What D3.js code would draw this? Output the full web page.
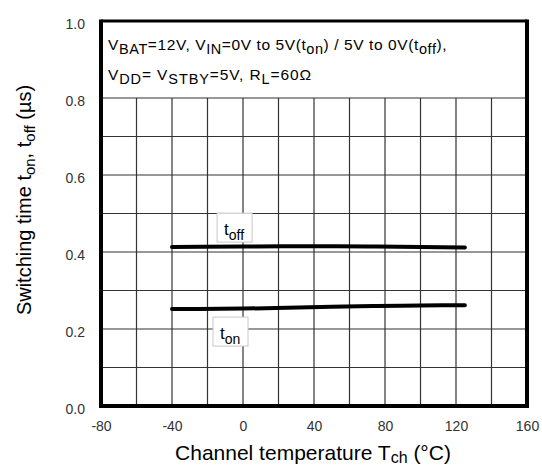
<!DOCTYPE html>
<html>
<head>
<meta charset="utf-8">
<script src="https://cdn.jsdelivr.net/npm/d3@7"></script>
<style>
  body { margin: 0; background: #fff; }
  text { font-family: Arial, "Liberation Sans", sans-serif; }
</style>
</head>
<body>
<script>
// ---- data ----
const tempTicks = [-80, -40, 0, 40, 80, 120, 160];
const timeTicks = [0.0, 0.2, 0.4, 0.6, 0.8, 1.0];
const tempGrid = [-60, -40, -20, 0, 20, 40, 60, 80, 100, 120, 140];
const timeGrid = [0.1, 0.2, 0.3, 0.4, 0.5, 0.6, 0.7, 0.8];

const temps = [-40, 0, 25, 50, 75, 100, 125];
const tOn  = [0.252, 0.253, 0.255, 0.258, 0.260, 0.261, 0.262];
const tOff = [0.413, 0.414, 0.415, 0.415, 0.414, 0.413, 0.412];

// curve label anchors (top-left of the little boxes), data units
const curveLabels = [
  {name: "off", x: -14.6, y: 0.501},
  {name: "on",  x: -16.9, y: 0.231}
];

const W = 542, H = 467;
const margin = {top: 21, right: 15, bottom: 61, left: 101};
const width = W - margin.left - margin.right;
const height = H - margin.top - margin.bottom;

const svg = d3.select("body").append("svg")
    .attr("width", W)
    .attr("height", H);

const g = svg.append("g")
    .attr("transform", `translate(${margin.left},${margin.top})`);

const x = d3.scaleLinear().domain([-80, 160]).range([0, width]);
const y = d3.scaleLinear().domain([0, 1]).range([height, 0]);

// white plot area
g.append("rect").attr("width", width).attr("height", height).attr("fill", "#fff");

// vertical grid (stops at 0.8, the note box sits above)
g.append("g").attr("class", "grid grid--x")
  .selectAll("line").data(tempGrid)
  .enter().append("line")
    .attr("x1", d => x(d)).attr("x2", d => x(d))
    .attr("y1", y(0)).attr("y2", y(0.8))
    .attr("stroke", "#333").attr("stroke-width", 1.2);

// horizontal grid
g.append("g").attr("class", "grid grid--y")
  .selectAll("line").data(timeGrid)
  .enter().append("line")
    .attr("x1", 0).attr("x2", width)
    .attr("y1", d => y(d)).attr("y2", d => y(d))
    .attr("stroke", "#333").attr("stroke-width", 1.2);

// frame: thick left / bottom / right, a bit thinner on top
g.append("line").attr("x1", 0).attr("x2", width).attr("y1", 0).attr("y2", 0)
    .attr("stroke", "#000").attr("stroke-width", 3);
g.append("line").attr("x1", 0).attr("x2", 0).attr("y1", -1.5).attr("y2", height + 2)
    .attr("stroke", "#000").attr("stroke-width", 4);
g.append("line").attr("x1", width).attr("x2", width).attr("y1", -1.5).attr("y2", height + 2)
    .attr("stroke", "#000").attr("stroke-width", 4);
g.append("line").attr("x1", -2).attr("x2", width + 2).attr("y1", height).attr("y2", height)
    .attr("stroke", "#000").attr("stroke-width", 4);

// axes (labels only)
const xAxis = d3.axisBottom(x).tickValues(tempTicks).tickSize(0).tickPadding(15)
    .tickFormat(d => String(d));
const yAxis = d3.axisLeft(y).tickValues(timeTicks).tickSize(0).tickPadding(16)
    .tickFormat(d => d.toFixed(1));

g.append("g").attr("class", "axis axis--x")
    .attr("transform", `translate(0,${height})`)
    .call(xAxis)
    .call(s => s.select(".domain").remove());
g.append("g").attr("class", "axis axis--y")
    .call(yAxis)
    .call(s => s.select(".domain").remove());

g.selectAll(".axis text")
    .attr("font-family", "Arial, 'Liberation Sans', sans-serif")
    .attr("font-size", 14)
    .attr("fill", "#333");
g.selectAll(".axis--y text").attr("dy", "0.5em");

// helper: text with subscripts, parts = [[string, isSub], ...]
function rich(sel, parts, base, subSize, shift) {
  let down = false;
  parts.forEach(([s, sub]) => {
    const t = sel.append("tspan").text(s);
    if (sub) { t.attr("font-size", subSize); if (!down) { t.attr("dy", shift); down = true; } }
    else { t.attr("font-size", base); if (down) { t.attr("dy", -shift); down = false; } }
  });
  return sel;
}

// stretch a text to a target width with letter spacing
function fitWidth(sel, target) {
  const len = sel.node().getComputedTextLength();
  const n = sel.text().length;
  sel.attr("letter-spacing", ((target - len) / n).toFixed(2));
}

// condition note
const note1 = svg.append("text").attr("x", 108).attr("y", 50).attr("fill", "#000");
rich(note1, [["V"], ["BAT", 1], ["=12V, V"], ["IN", 1], ["=0V to 5V(t"], ["on", 1],
  [") / 5V to 0V(t"], ["off", 1], ["),"]], 15.5, 14.5, 4);
fitWidth(note1, 339);
const note2 = svg.append("text").attr("x", 108).attr("y", 80).attr("fill", "#000");
rich(note2, [["V"], ["DD", 1], ["= V"], ["STBY", 1], ["=5V, R"], ["L", 1], ["=60\u03a9"]], 15.5, 14.5, 4);
fitWidth(note2, 204);

// curves
const line = d3.line()
    .x((d, i) => x(temps[i]))
    .y(d => y(d))
    .curve(d3.curveMonotoneX);

g.selectAll(".curve").data([tOff, tOn])
  .enter().append("path")
    .attr("class", "curve")
    .attr("d", line)
    .attr("fill", "none")
    .attr("stroke", "#000")
    .attr("stroke-width", 4)
    .attr("stroke-linecap", "round");

// curve labels in small boxes
const lab = g.selectAll(".lab").data(curveLabels)
  .enter().append("g")
    .attr("class", "lab")
    .attr("transform", d => `translate(${x(d.x)},${y(d.y)})`);
lab.append("rect")
    .attr("width", 35).attr("height", 29)
    .attr("fill", "#fff").attr("stroke", "#c8c8c8").attr("stroke-width", 1);
lab.each(function(d) {
  const t = d3.select(this).append("text").attr("x", 7).attr("y", 22);
  rich(t, [["t"], [d.name, 1]], 17, 14, 5);
});

// axis titles
const xt = svg.append("text")
    .attr("x", 313).attr("y", 460)
    .attr("text-anchor", "middle");
rich(xt, [["Channel temperature T"], ["ch", 1], [" (\u00b0C)"]], 21, 16, 3);

const yt = svg.append("text")
    .attr("transform", "translate(31,200) rotate(-90)")
    .attr("text-anchor", "middle");
rich(yt, [["Switching time t"], ["on", 1], [", t"], ["off", 1], [" (\u00b5s)"]], 20, 15, 4);
</script>
</body>
</html>
